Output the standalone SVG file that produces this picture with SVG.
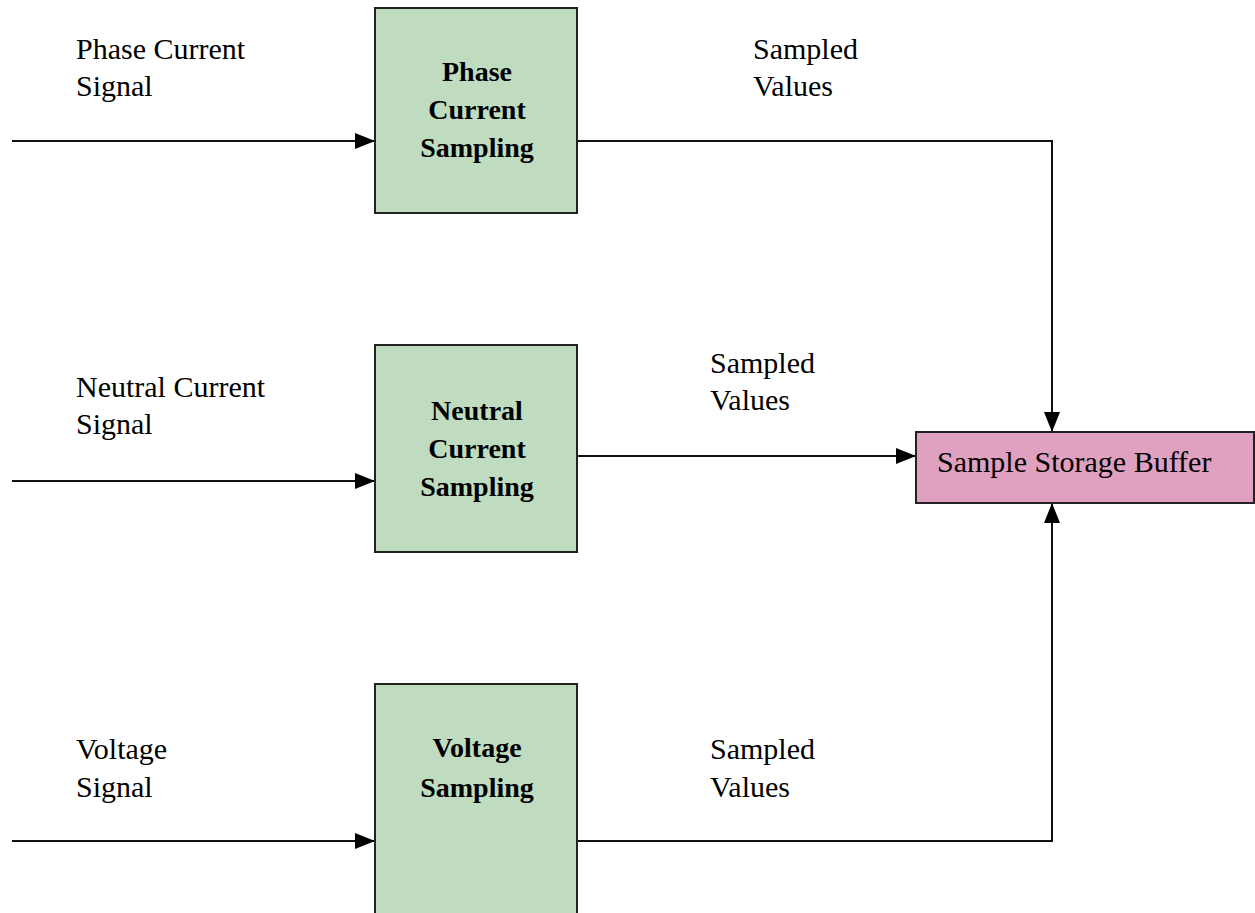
<svg xmlns="http://www.w3.org/2000/svg" width="1255" height="913" viewBox="0 0 1255 913">
<defs>
<marker id="arr" markerUnits="userSpaceOnUse" markerWidth="22" markerHeight="18" refX="20" refY="8" orient="auto">
<path d="M0,0 L20,8 L0,16 Z" fill="#000"/>
</marker>
<style>
.box{fill:#C0DCC0;stroke:#222;stroke-width:2}
.pink{fill:#E0A0C0;stroke:#222;stroke-width:2}
.bt{font-weight:bold;font-size:28px;fill:#000;text-anchor:middle}
.lt{font-size:30px;fill:#000}
.ln{fill:none;stroke:#111;stroke-width:2}
</style>
</defs>
<rect width="1255" height="913" fill="#fff"/>
<g id="connectors">
<path class="ln" d="M12,141 L375,141" marker-end="url(#arr)"/>
<path class="ln" d="M12,481 L375,481" marker-end="url(#arr)"/>
<path class="ln" d="M12,841 L375,841" marker-end="url(#arr)"/>
<path class="ln" d="M577,141 L1052,141 L1052,432" marker-end="url(#arr)"/>
<path class="ln" d="M577,456 L916,456" marker-end="url(#arr)"/>
<path class="ln" d="M577,841 L1052,841 L1052,503" marker-end="url(#arr)"/>
</g>
<g font-family="Liberation Serif, Times New Roman, DejaVu Serif, serif">
<g id="phase-sampling">
<rect class="box" x="375" y="8" width="202" height="205"/>
<text class="bt" x="477" y="81">Phase</text>
<text class="bt" x="477" y="119">Current</text>
<text class="bt" x="477" y="157">Sampling</text>
</g>
<g id="neutral-sampling">
<rect class="box" x="375" y="345" width="202" height="207"/>
<text class="bt" x="477" y="420">Neutral</text>
<text class="bt" x="477" y="458">Current</text>
<text class="bt" x="477" y="496">Sampling</text>
</g>
<g id="voltage-sampling">
<rect class="box" x="375" y="684" width="202" height="240"/>
<text class="bt" x="477" y="757">Voltage</text>
<text class="bt" x="477" y="797">Sampling</text>
</g>
<g id="buffer">
<rect class="pink" x="916" y="432" width="338" height="71"/>
<text class="lt" x="937" y="472" font-size="30.5">Sample Storage Buffer</text>
</g>
<g id="labels">
<text class="lt" x="76" y="59">Phase Current</text>
<text class="lt" x="76" y="96">Signal</text>
<text class="lt" x="76" y="397">Neutral Current</text>
<text class="lt" x="76" y="434">Signal</text>
<text class="lt" x="76" y="759">Voltage</text>
<text class="lt" x="76" y="797">Signal</text>
<text class="lt" x="753" y="59">Sampled</text>
<text class="lt" x="753" y="96">Values</text>
<text class="lt" x="710" y="373">Sampled</text>
<text class="lt" x="710" y="410">Values</text>
<text class="lt" x="710" y="759">Sampled</text>
<text class="lt" x="710" y="797">Values</text>
</g>
</g>
</svg>
